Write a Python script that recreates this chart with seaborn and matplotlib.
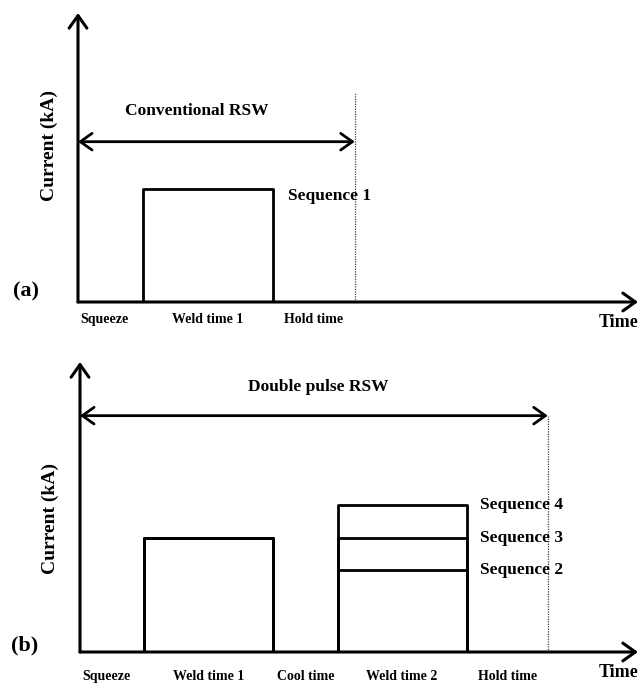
import numpy as np
import pandas as pd
import matplotlib
matplotlib.use("Agg")
import matplotlib.pyplot as plt
import seaborn as sns

# ---------------- data ----------------
# (a) conventional RSW
phases_a = ["Squeeze", "Weld time 1", "Hold time"]
durations_a = [0.5, 1.0, 0.63]
weld_current_a = 1.0
seq_a = ["Sequence 1"]

# (b) double pulse RSW
phases_b = ["Squeeze", "Weld time 1", "Cool time", "Weld time 2", "Hold time"]
durations_b = [0.5, 1.0, 0.5, 1.0, 0.63]
weld1_current_b = 1.0
weld2_currents_b = [0.72, 1.0, 1.29]
seq_b = ["Sequence 2", "Sequence 3", "Sequence 4"]

xmax_a, ymax_a = 4.31, 2.56
xmax_b, ymax_b = 4.33, 2.54
arrow_y_a, arrow_y_b = 1.42, 2.07
dotted_top_a = 1.86
title_a, title_b = "Conventional RSW", "Double pulse RSW"
title_pos_a = (0.915, 1.69)
title_pos_b = (1.85, 2.32)

sns.set_style("white")
plt.rcParams["font.family"] = ["Liberation Serif", "DejaVu Serif"]
plt.rcParams["font.weight"] = "bold"
plt.rcParams["text.color"] = "black"

fig = plt.figure(figsize=(6.39, 6.84), dpi=100)
ax_a = fig.add_axes([78/639, 1-302/684, 560/639, 289/684])
ax_b = fig.add_axes([80/639, 1-652/684, 558/639, 290/684])

LW = 2.0

def setup(ax, xmax, ymax):
    ax.set_xlim(0, xmax)
    ax.set_ylim(0, ymax)
    for s in ax.spines.values():
        s.set_visible(False)
    ax.set_xticks([])
    ax.set_yticks([])
    ax.set_xlabel("")
    ax.set_ylabel("")
    arr = dict(arrowstyle="->,head_length=0.45,head_width=0.32", lw=2.2,
               color="black", shrinkA=0, shrinkB=0, mutation_scale=20)
    ax.annotate("", xy=(1.0, 0), xytext=(0, 0), xycoords="axes fraction",
                textcoords="axes fraction", arrowprops=arr, annotation_clip=False)
    ax.annotate("", xy=(0, 1.0), xytext=(0, 0), xycoords="axes fraction",
                textcoords="axes fraction", arrowprops=arr, annotation_clip=False)
    ax.text(1.0, -0.072, "Time", transform=ax.transAxes, ha="right", va="center",
            fontsize=13, fontweight="bold", color="black")

def phase_labels(ax, phases, durations, dy):
    edges = np.concatenate([[0], np.cumsum(durations)])
    for i, p in enumerate(phases):
        if i == 0:
            ax.annotate(p, xy=(edges[0], 0), xytext=(2, -dy), textcoords="offset points",
                        ha="left", va="center", fontsize=10, fontweight="bold",
                        color="black", annotation_clip=False)
        else:
            mid = (edges[i] + edges[i+1]) / 2
            ax.annotate(p, xy=(mid, 0), xytext=(0, -dy), textcoords="offset points",
                        ha="center", va="center", fontsize=10, fontweight="bold",
                        color="black", annotation_clip=False)
    return edges

def span_arrow(ax, x_end, y, dotted_top, title, title_pos):
    arr = dict(arrowstyle="<->,head_length=0.42,head_width=0.3", lw=2.0,
               color="black", shrinkA=0, shrinkB=0, mutation_scale=20)
    ax.annotate("", xy=(x_end, y), xytext=(0, y), arrowprops=arr, annotation_clip=False)
    ax.plot([x_end, x_end], [0, dotted_top], ls=(0, (1, 1)), lw=0.9, color="#444444")
    ax.text(title_pos[0], title_pos[1], title, ha="center", va="center",
            fontsize=12.5, fontweight="bold", color="black")

# ----- panel (a) -----
edges_a = np.concatenate([[0], np.cumsum(durations_a)])
df_a = pd.DataFrame({
    "time": [edges_a[1], edges_a[1], edges_a[2], edges_a[2]],
    "current": [0, weld_current_a, weld_current_a, 0],
    "seq": seq_a * 4,
})
sns.lineplot(data=df_a, x="time", y="current", units="seq", estimator=None, sort=False,
             color="black", lw=LW, ax=ax_a, legend=False)
setup(ax_a, xmax_a, ymax_a)
phase_labels(ax_a, phases_a, durations_a, 12.5)
span_arrow(ax_a, edges_a[3], arrow_y_a, dotted_top_a, title_a, title_pos_a)
ax_a.annotate(seq_a[0], xy=(edges_a[2], weld_current_a), xytext=(11, -5),
              textcoords="offset points", ha="left", va="center", fontsize=12.5,
              fontweight="bold", color="black")
ax_a.text(-0.093, 0.038, "(a)", transform=ax_a.transAxes, ha="center", va="center",
          fontsize=16, fontweight="bold", color="black")
ax_a.text(-0.052, 0.54, "Current (kA)", transform=ax_a.transAxes, ha="center",
          va="center", rotation=90, fontsize=14, fontweight="bold", color="black")

# ----- panel (b) -----
edges_b = np.concatenate([[0], np.cumsum(durations_b)])
rows = []
for s, c2 in zip(seq_b, weld2_currents_b):
    xs = [edges_b[1], edges_b[1], edges_b[2], edges_b[2],
          edges_b[3], edges_b[3], edges_b[4], edges_b[4]]
    ys = [0, weld1_current_b, weld1_current_b, 0, 0, c2, c2, 0]
    for x, y in zip(xs, ys):
        rows.append({"time": x, "current": y, "seq": s})
df_b = pd.DataFrame(rows)
sns.lineplot(data=df_b, x="time", y="current", units="seq", estimator=None, sort=False,
             color="black", lw=LW, ax=ax_b, legend=False)
setup(ax_b, xmax_b, ymax_b)
phase_labels(ax_b, phases_b, durations_b, 17.5)
span_arrow(ax_b, edges_b[5], arrow_y_b, arrow_y_b, title_b, title_pos_b)
for s, c2 in zip(seq_b, weld2_currents_b):
    ax_b.annotate(s, xy=(edges_b[4], c2), xytext=(10, 0), textcoords="offset points",
                  ha="left", va="center", fontsize=12.5, fontweight="bold", color="black")
ax_b.text(-0.099, 0.021, "(b)", transform=ax_b.transAxes, ha="center", va="center",
          fontsize=16, fontweight="bold", color="black")
ax_b.text(-0.054, 0.462, "Current (kA)", transform=ax_b.transAxes, ha="center",
          va="center", rotation=90, fontsize=14, fontweight="bold", color="black")

fig.savefig("out.png", dpi=100)
